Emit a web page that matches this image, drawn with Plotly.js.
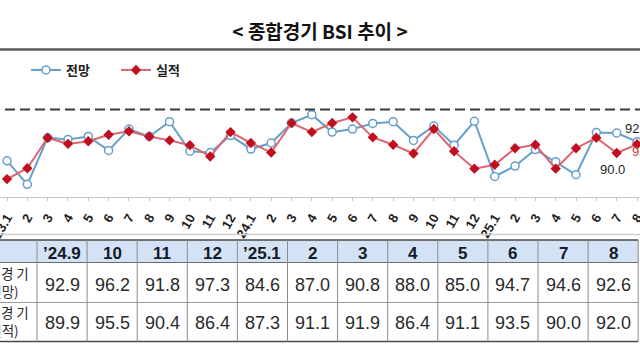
<!DOCTYPE html>
<html>
<head>
<meta charset="utf-8">
<script src="https://cdn.plot.ly/plotly-3.0.1.min.js"></script>
<style>
html,body{margin:0;padding:0;background:#fff;}
#chart{width:640px;height:360px;}
</style>
</head>
<body>
<div id="chart"></div>
<script>
// ---- data ----
const months = ['23.1','23.2','23.3','23.4','23.5','23.6','23.7','23.8','23.9','23.10','23.11','23.12',
                '24.1','24.2','24.3','24.4','24.5','24.6','24.7','24.8','24.9','24.10','24.11','24.12',
                '25.1','25.2','25.3','25.4','25.5','25.6','25.7','25.8'];
const tickLabels = ['23.1','2','3','4','5','6','7','8','9','10','11','12',
                    '24.1','2','3','4','5','6','7','8','9','10','11','12',
                    '25.1','2','3','4','5','6','7','8'];
const forecast = [88.2, 82.8, 93.5, 93.1, 93.8, 90.6, 95.5, 93.8, 97.2, 90.4, 90.1, 94.0,
                  90.9, 92.3, 96.9, 98.8, 94.8, 95.5, 96.8, 97.2, 92.9, 96.2, 91.8, 97.3,
                  84.6, 87.0, 90.8, 88.0, 85.0, 94.7, 94.6, 92.6];
const actual   = [84.0, 86.5, 93.5, 92.1, 92.7, 94.2, 95.0, 93.8, 92.9, 91.8, 89.2, 94.8,
                  92.3, 90.1, 96.9, 94.8, 96.9, 98.2, 93.6, 91.9, 89.9, 95.5, 90.4, 86.4,
                  87.3, 91.1, 91.9, 86.4, 91.1, 93.5, 90.0, 92.0];
const tableHeaders = ['’24.9','10','11','12','’25.1','2','3','4','5','6','7','8'];
const rowLabels = [['종 합 경 기','(전망)'], ['종 합 경 기','(실적)']];
const seriesNames = ['전망','실적'];
const refValue = 100;

// ---- layout helpers ----
const W = 640, H = 360;
const px = x => x / W;
const py = y => 1 - y / H;

const tableForecast = forecast.slice(-tableHeaders.length);
const tableActual = actual.slice(-tableHeaders.length);

const traces = [
  {
    x: months, y: forecast, name: seriesNames[0], type: 'scatter', mode: 'lines+markers',
    line: {color: '#659fca', width: 2},
    marker: {symbol: 'circle', size: 8, color: '#ffffff', line: {color: '#659fca', width: 1.5}},
    cliponaxis: false
  },
  {
    x: months, y: actual, name: seriesNames[1], type: 'scatter', mode: 'lines+markers',
    line: {color: '#dd6670', width: 2},
    marker: {symbol: 'diamond', size: 8, color: '#c01020'},
    cliponaxis: false
  }
];

const shapes = [];
const annotations = [];

// title underline
shapes.push({type:'line', xref:'paper', yref:'paper', x0:0, x1:1, y0:py(49.5), y1:py(49.5),
             line:{color:'#5a5a5a', width:2.5}});
// reference dashed line
shapes.push({type:'line', xref:'paper', yref:'y', x0:px(5), x1:1, y0:refValue, y1:refValue,
             line:{color:'#3a3a3a', width:2, dash:'10px,5px'}});
// faint separator above table
shapes.push({type:'line', xref:'paper', yref:'paper', x0:0, x1:1, y0:py(234.5), y1:py(234.5),
             line:{color:'#d0d0d0', width:1.5}});

// table geometry
const tTop = 240, tHead = 262.5, tRow1 = 302.5, tBot = 341.5;
const colStart = 37, colW = 50.1;
const tRight = colStart + colW * tableHeaders.length;
shapes.push({type:'rect', xref:'paper', yref:'paper', x0:0, x1:px(tRight), y0:py(tHead), y1:py(tTop),
             fillcolor:'#d3e2f4', line:{width:0}, layer:'below'});
[[tTop,'#4a4a4a',1.5],[tHead,'#6a6a6a',1.2],[tRow1,'#9a9a9a',1],[tBot,'#4a4a4a',1.5]].forEach(([y,c,w]) => {
  shapes.push({type:'line', xref:'paper', yref:'paper', x0:0, x1:px(tRight), y0:py(y), y1:py(y),
               line:{color:c, width:w}});
});
for (let i = 0; i <= tableHeaders.length; i++) {
  const x = colStart + colW * i;
  shapes.push({type:'line', xref:'paper', yref:'paper', x0:px(x), x1:px(x), y0:py(tBot), y1:py(tTop),
               line:{color:'#8c8c8c', width:1}});
}
// table text
tableHeaders.forEach((h, i) => {
  const cx = px(colStart + colW * (i + 0.5));
  annotations.push({xref:'paper', yref:'paper', x:cx, y:py(253.5), text:h, showarrow:false,
    xanchor:'center', yanchor:'middle',
    font:{family:'Liberation Sans, Arial, sans-serif', size:17, color:'#151a26', weight:'bold'}});
  annotations.push({xref:'paper', yref:'paper', x:cx, y:py(285), text:tableForecast[i].toFixed(1), showarrow:false,
    xanchor:'center', yanchor:'middle',
    font:{family:'Liberation Sans, Arial, sans-serif', size:18, color:'#2a2a2a'}});
  annotations.push({xref:'paper', yref:'paper', x:cx, y:py(323), text:tableActual[i].toFixed(1), showarrow:false,
    xanchor:'center', yanchor:'middle',
    font:{family:'Liberation Sans, Arial, sans-serif', size:18, color:'#2a2a2a'}});
});
// row labels (partially cut by the left edge), two lines right-aligned
rowLabels.forEach((lab, r) => {
  const center = r === 0 ? 282 : 321;
  annotations.push({xref:'paper', yref:'paper', x:px(31), y:py(center),
    text: lab[0] + '<br>' + lab[1] + '\u2002\u2005', showarrow:false,
    xanchor:'right', yanchor:'middle', align:'right',
    font:{family:'Noto Sans CJK KR, sans-serif', size:13.5, color:'#2a2a2a'}});
});

// data labels on chart (category axis: x given as category index)
const n = months.length;
annotations.push({xref:'x', yref:'y', x: n-1, y: forecast[n-1], text: forecast[n-1].toFixed(1), showarrow:false,
  xanchor:'center', yanchor:'middle', yshift:13,
  font:{family:'Liberation Sans Narrow, Liberation Sans, Arial, sans-serif', size:13, color:'#1e1e1e'}});
annotations.push({xref:'x', yref:'y', x: n-1, y: actual[n-1], text: actual[n-1].toFixed(1), showarrow:false,
  xanchor:'left', yanchor:'middle', xshift:-7, yshift:-7,
  font:{family:'Liberation Sans Narrow, Liberation Sans, Arial, sans-serif', size:13, color:'#c83c44'}});
annotations.push({xref:'x', yref:'y', x: n-2, y: actual[n-2], text: actual[n-2].toFixed(1), showarrow:false,
  xanchor:'center', yanchor:'middle', xshift:-4, yshift:-16,
  font:{family:'Liberation Sans Narrow, Liberation Sans, Arial, sans-serif', size:13, color:'#1e1e1e'}});

const pxPerUnit = 20.32;
const layout = {
  width: W, height: H,
  margin: {l:0, r:0, t:0, b:0, pad:0},
  paper_bgcolor: '#ffffff', plot_bgcolor: '#ffffff',
  title: {text: '< 종합경기 BSI 추이 >', x: 0.5, xanchor: 'center', y: py(32), yanchor: 'middle',
          yref: 'container',
          font: {family: 'Noto Sans CJK KR, sans-serif', size: 19, color: '#111111', weight: 'bold'}},
  showlegend: true,
  legend: {orientation: 'h', x: px(26), y: py(70), xanchor: 'left', yanchor: 'middle',
           bgcolor: 'rgba(0,0,0,0)', entrywidth: 45, entrywidthmode: 'pixels',
           font: {family: 'Noto Sans CJK KR, sans-serif', size: 13, color: '#222222', weight: 'bold'}},
  xaxis: {
    type: 'category', domain: [0, 1],
    range: [-7 / pxPerUnit, (n - 1) + 3 / pxPerUnit],
    tickvals: months, ticktext: tickLabels, tickangle: -60,
    tickfont: {family: 'Liberation Sans, Arial, sans-serif', size: 13, color: '#222222', weight: 'bold'},
    ticklabelstandoff: 4,
    showline: true, linecolor: '#c8c8c8', linewidth: 1.5,
    ticks: 'outside', ticklen: 3, tickcolor: '#c8c8c8', tickwidth: 1,
    showgrid: false, zeroline: false, fixedrange: true
  },
  yaxis: {
    domain: [py(196.5), py(90)], range: [80, 80 + 106.5 / 4.35],
    showticklabels: false, showgrid: false, zeroline: false, showline: false, ticks: '', fixedrange: true
  },
  shapes: shapes,
  annotations: annotations
};

Plotly.newPlot('chart', traces, layout, {displayModeBar: false, staticPlot: true});
</script>
</body>
</html>
